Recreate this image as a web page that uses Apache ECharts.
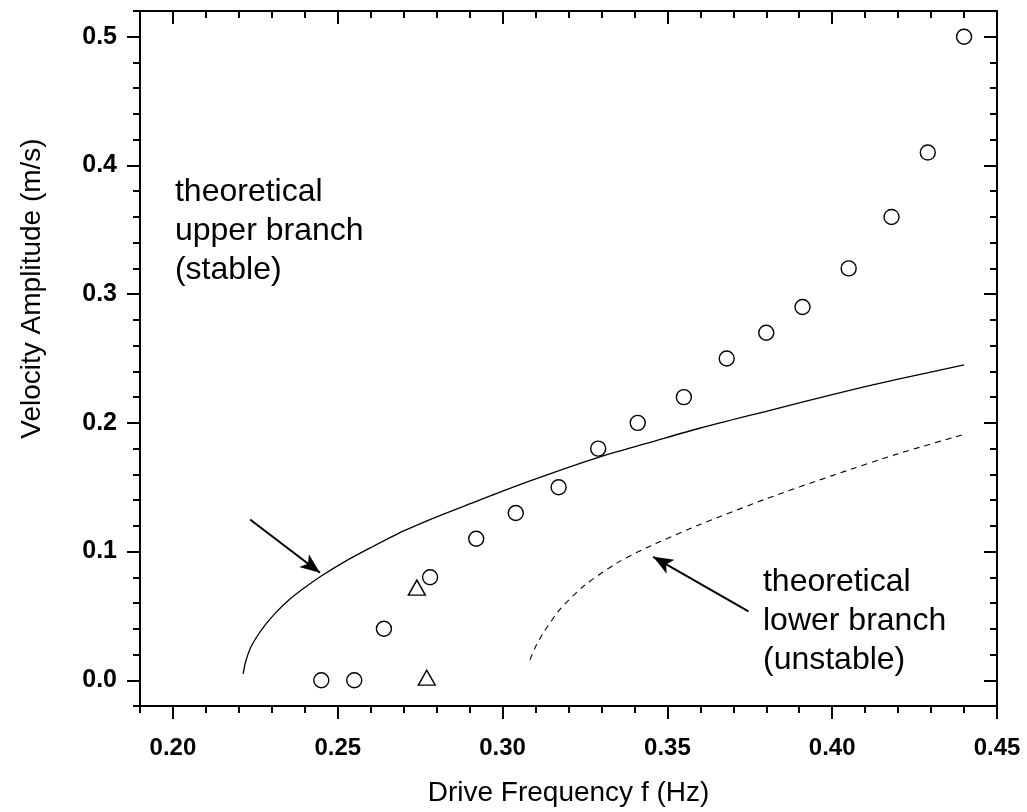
<!DOCTYPE html>
<html>
<head>
<meta charset="utf-8">
<script src="https://cdn.jsdelivr.net/npm/echarts@6/dist/echarts.min.js"></script>
<style>html,body{margin:0;padding:0;background:#fff}#c{width:1027px;height:812px}</style>
</head>
<body>
<div id="c"></div>
<script>
// Measured data: circles (experiment), triangles, theoretical branches
const circlePoints = [
  [0.245, 0.000], [0.255, 0.000], [0.264, 0.040], [0.278, 0.080],
  [0.292, 0.110], [0.304, 0.130], [0.317, 0.150], [0.329, 0.180],
  [0.341, 0.200], [0.355, 0.220], [0.368, 0.250], [0.380, 0.270],
  [0.391, 0.290], [0.405, 0.320], [0.418, 0.360], [0.429, 0.410],
  [0.440, 0.500]
];
const trianglePoints = [[0.274, 0.072], [0.277, 0.002]];
const upperBranch = [
  [0.2213, 0.005], [0.2220, 0.014], [0.2235, 0.025], [0.2255, 0.034],
  [0.2280, 0.043], [0.2310, 0.052], [0.2350, 0.062], [0.2400, 0.072],
  [0.2450, 0.081], [0.2520, 0.092], [0.2600, 0.103], [0.2700, 0.116],
  [0.2800, 0.127], [0.2900, 0.137], [0.3000, 0.147], [0.3150, 0.161],
  [0.3300, 0.174], [0.3450, 0.185], [0.3600, 0.196], [0.3800, 0.209],
  [0.4000, 0.222], [0.4200, 0.234], [0.4400, 0.245]
];
const lowerBranch = [
  [0.3083, 0.016], [0.3100, 0.026], [0.3124, 0.037], [0.3174, 0.055],
  [0.3245, 0.073], [0.3346, 0.091], [0.3437, 0.103], [0.3599, 0.121],
  [0.3800, 0.141], [0.4000, 0.159], [0.4200, 0.176], [0.4400, 0.191]
];
// tick values
const xMajorTicks = [0.20, 0.25, 0.30, 0.35, 0.40, 0.45];
const xMinorTicks = [0.19,0.20,0.21,0.22,0.23,0.24,0.25,0.26,0.27,0.28,0.29,0.30,0.31,0.32,0.33,0.34,0.35,0.36,0.37,0.38,0.39,0.40,0.41,0.42,0.43,0.44,0.45];
const yMajorTicks = [0.0, 0.1, 0.2, 0.3, 0.4, 0.5];
const yMinorTicks = [-0.02,0.00,0.02,0.04,0.06,0.08,0.10,0.12,0.14,0.16,0.18,0.20,0.22,0.24,0.26,0.28,0.30,0.32,0.34,0.36,0.38,0.40,0.42,0.44,0.46,0.48,0.50,0.52];
// annotations (anchor in data coords)
const upperText = { pos: [0.2006, 0.349], text: 'theoretical\nupper branch\n(stable)' };
const lowerText = { pos: [0.379, 0.046], text: 'theoretical\nlower branch\n(unstable)' };
const upperArrow = [[0.2234, 0.1249], [0.2446, 0.0835]];
const lowerArrow = [[0.3746, 0.0536], [0.3457, 0.0959]];

const X_MIN = 0.19, X_MAX = 0.45, Y_MIN = -0.02, Y_MAX = 0.52;
const FONT = 'Liberation Sans, Arial, Helvetica, sans-serif';

function xAx(opts) {
  return Object.assign({
    type: 'value', min: X_MIN, max: X_MAX, splitLine: { show: false },
    axisLine: { show: true, onZero: false, lineStyle: { color: '#000', width: 2 } },
    axisLabel: { show: false }, name: ''
  }, opts);
}
function yAx(opts) {
  return Object.assign({
    type: 'value', min: Y_MIN, max: Y_MAX, splitLine: { show: false },
    axisLine: { show: true, onZero: false, lineStyle: { color: '#000', width: 2 } },
    axisLabel: { show: false }, name: ''
  }, opts);
}
const tickStyle = { color: '#000', width: 2 };

const option = {
  animation: false,
  backgroundColor: '#fff',
  grid: { left: 140, right: 30, top: 11, bottom: 106, containLabel: false, outerBoundsMode: 'none' },
  xAxis: [
    xAx({ position: 'bottom',
      axisTick: { show: true, inside: false, length: 13, lineStyle: tickStyle, customValues: xMajorTicks },
      axisLabel: { show: true, customValues: xMajorTicks, formatter: v => v.toFixed(2), color: '#000',
        fontFamily: FONT, fontSize: 24, fontWeight: 'bold', margin: 30 },
      name: 'Drive Frequency f (Hz)', nameLocation: 'middle', nameGap: 73,
      nameTextStyle: { fontFamily: FONT, fontSize: 28, color: '#000' } }),
    xAx({ position: 'bottom',
      axisTick: { show: true, inside: false, length: 7, lineStyle: tickStyle, customValues: xMinorTicks } }),
    xAx({ position: 'top',
      axisTick: { show: true, inside: true, length: 13, lineStyle: tickStyle, customValues: xMajorTicks } }),
    xAx({ position: 'top',
      axisTick: { show: true, inside: true, length: 7, lineStyle: tickStyle, customValues: xMinorTicks } })
  ],
  yAxis: [
    yAx({ position: 'left',
      axisTick: { show: true, inside: false, length: 13, lineStyle: tickStyle, customValues: yMajorTicks },
      axisLabel: { show: true, customValues: yMajorTicks, formatter: v => v.toFixed(1), color: '#000',
        fontFamily: FONT, fontSize: 25, fontWeight: 'bold', margin: 23 },
      name: 'Velocity Amplitude (m/s)', nameLocation: 'middle', nameGap: 94, nameRotate: 90,
      nameTextStyle: { fontFamily: FONT, fontSize: 28, color: '#000', padding: [0, 0, 0, 140] } }),
    yAx({ position: 'left',
      axisTick: { show: true, inside: false, length: 7, lineStyle: tickStyle, customValues: yMinorTicks } }),
    yAx({ position: 'right',
      axisTick: { show: true, inside: true, length: 13, lineStyle: tickStyle, customValues: yMajorTicks } }),
    yAx({ position: 'right',
      axisTick: { show: true, inside: true, length: 7, lineStyle: tickStyle, customValues: yMinorTicks } })
  ],
  series: [
    { type: 'line', data: upperBranch, showSymbol: false, symbol: 'none', smooth: 0.25,
      lineStyle: { color: '#000', width: 1.3 }, z: 3 },
    { type: 'line', data: lowerBranch, showSymbol: false, symbol: 'none', smooth: 0.25,
      lineStyle: { color: '#000', width: 1.1, type: [6, 5] }, z: 3 },
    { type: 'scatter', data: circlePoints, symbol: 'circle', symbolSize: 15,
      itemStyle: { color: '#fff', borderColor: '#000', borderWidth: 1.4, opacity: 1 }, z: 4 },
    { type: 'scatter', data: trianglePoints, symbol: 'triangle', symbolSize: [17, 15],
      itemStyle: { color: '#fff', borderColor: '#000', borderWidth: 1.4, opacity: 1 }, z: 4 },
    { type: 'scatter', symbolSize: 0, silent: true,
      itemStyle: { opacity: 1 },
      data: [
        { value: upperText.pos, label: { formatter: upperText.text, color: '#000' } },
        { value: lowerText.pos, label: { formatter: lowerText.text, color: '#000' } }
      ],
      label: { show: true, position: 'right', distance: 0, color: '#000', fontFamily: FONT,
        fontSize: 32, lineHeight: 39, align: 'left', verticalAlign: 'middle', opacity: 1 },
      markLine: {
        silent: true, symbol: ['none', 'arrow'], symbolSize: [12, 20], label: { show: false },
        lineStyle: { color: '#000', width: 2, type: 'solid', opacity: 1 },
        emphasis: { disabled: true },
        data: [
          [{ coord: upperArrow[0] }, { coord: upperArrow[1] }],
          [{ coord: lowerArrow[0] }, { coord: lowerArrow[1] }]
        ]
      }
    }
  ]
};
const chart = echarts.init(document.getElementById('c'), null, { renderer: 'canvas' });
chart.setOption(option);
</script>
</body>
</html>
